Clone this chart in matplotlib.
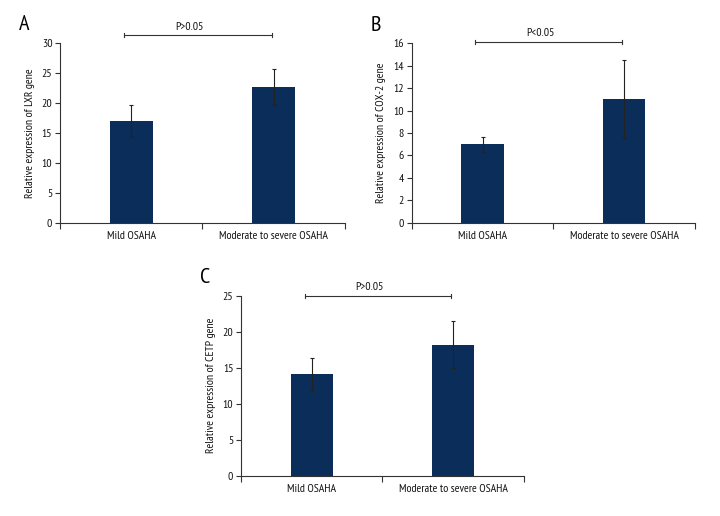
import matplotlib
matplotlib.use("Agg")
import matplotlib.pyplot as plt
from matplotlib import font_manager as fm

names = {f.name for f in fm.fontManager.ttflist}
prefs = ['PT Sans Narrow', 'Roboto Condensed', 'Fira Sans Condensed', 'Open Sans Condensed',
         'Archivo Narrow', 'Liberation Sans Narrow', 'Asap Condensed', 'Encode Sans Condensed']
fam = next((p for p in prefs if p in names), 'DejaVu Sans')
plt.rcParams['font.family'] = [fam, 'DejaVu Sans']

categories = ["Mild OSAHA", "Moderate to severe OSAHA"]

lxr_mean = [17.0, 22.6]
lxr_err = [2.7, 3.0]
cox2_mean = [7.0, 11.05]
cox2_err = [0.65, 3.5]
cetp_mean = [14.1, 18.2]
cetp_err = [2.25, 3.3]

panels = [
    dict(letter="A", mean=lxr_mean, err=lxr_err, ylabel="Relative expression of LXR gene",
         ymax=30, step=5, p="P>0.05", rect=[0.0833, 0.5678, 0.3958, 0.3489], sig_y=31.33, txt_y=31.9),
    dict(letter="B", mean=cox2_mean, err=cox2_err, ylabel="Relative expression of COX-2 gene",
         ymax=16, step=2, p="P<0.05", rect=[0.5718, 0.5684, 0.3935, 0.3476], sig_y=16.12, txt_y=16.45),
    dict(letter="C", mean=cetp_mean, err=cetp_err, ylabel="Relative expression of CETP gene",
         ymax=25, step=5, p="P>0.05", rect=[0.3347, 0.0781, 0.3931, 0.3488], sig_y=24.96, txt_y=25.5),
]

bar_color = "#0b2d59"
axis_color = "#333333"

fig = plt.figure(figsize=(7.2, 5.16), dpi=100)

for pnl in panels:
    ax = fig.add_axes(pnl["rect"])
    x = list(range(len(categories)))
    ax.bar(x, pnl["mean"], width=0.3, color=bar_color, zorder=2)
    ax.errorbar(x, pnl["mean"], yerr=pnl["err"], fmt="none", ecolor="#222222",
                elinewidth=0.8, capsize=1.6, capthick=0.8, zorder=3)
    ax.set_xlim(-0.5, 1.5)
    ax.set_ylim(0, pnl["ymax"])
    ax.set_yticks(range(0, pnl["ymax"] + 1, pnl["step"]))
    ax.set_xticks(x)
    ax.set_xticklabels(categories, fontsize=8.5)
    ax.set_xticks([-0.5, 0.5, 1.5], minor=True)
    ax.tick_params(axis="x", which="major", length=0, pad=6, colors="#111111")
    ax.tick_params(axis="x", which="minor", length=4, width=0.8, color=axis_color, direction="out")
    ax.tick_params(axis="y", length=3.5, width=0.8, color=axis_color, labelsize=8.5, pad=2, labelcolor="#111111")
    for s in ["top", "right"]:
        ax.spines[s].set_visible(False)
    for s in ["left", "bottom"]:
        ax.spines[s].set_color(axis_color)
        ax.spines[s].set_linewidth(0.8)
    ax.set_ylabel(pnl["ylabel"], fontsize=8.5, labelpad=5, color="#111111")
    # significance bracket
    x0, x1 = -0.05, 0.985
    ax.plot([x0, x1], [pnl["sig_y"], pnl["sig_y"]], color=axis_color, lw=0.8, clip_on=False)
    tick_h = pnl["ymax"] * 0.012
    for xe in (x0, x1):
        ax.plot([xe, xe], [pnl["sig_y"] - tick_h, pnl["sig_y"] + tick_h], color=axis_color, lw=0.8, clip_on=False)
    ax.text(0.41, pnl["txt_y"], pnl["p"], ha="center", va="bottom", fontsize=8.5, color="#111111")
    ax.text(-0.125, 1.10, pnl["letter"], transform=ax.transAxes, fontsize=16, ha="center", va="center")

fig.savefig("out.png", dpi=100, facecolor="white")
